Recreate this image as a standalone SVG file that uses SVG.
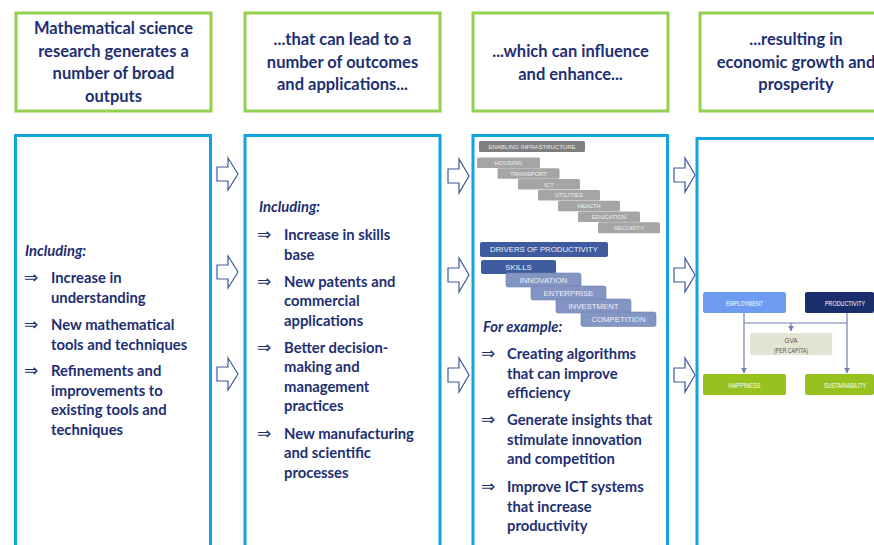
<svg xmlns="http://www.w3.org/2000/svg" width="874" height="545" viewBox="0 0 874 545">
<defs>
<style>
.hdr{fill:#fff;stroke:#92D050;stroke-width:3}
.pan{fill:#fff;stroke:#12A4DD;stroke-width:3}
.ht{font-family:Lato,"Liberation Sans",sans-serif;font-weight:bold;font-size:16.5px;fill:#1D2F72;text-anchor:middle}
.bt{font-family:Lato,"Liberation Sans",sans-serif;font-weight:bold;font-size:14.8px;fill:#1D2F72}
.it{font-family:Lato,"Liberation Sans",sans-serif;font-weight:bold;font-style:italic;font-size:14.8px;fill:#1D2F72}
.ar{font-family:"DejaVu Sans",sans-serif;font-size:17px;fill:#1D2F72}
.harr{fill:#fff;stroke:#3D5A9A;stroke-width:1.2;stroke-linejoin:miter}
.gb{fill:#A5A5A5}
.gt{font-family:"Liberation Sans",Arial,sans-serif;font-size:6px;fill:#EEEEEE;text-anchor:middle}
.bb{fill:#8395C3;stroke:#6F82B4;stroke-width:0.6}
.bbt{font-family:"Liberation Sans",Arial,sans-serif;font-size:7.8px;fill:#EEF1F8;text-anchor:middle}
.rt{font-family:"Liberation Sans",Arial,sans-serif;font-size:7.5px;fill:#fff;text-anchor:middle}
.ln{fill:none;stroke:#6E80B2;stroke-width:1.2}
</style>
<marker id="ah" viewBox="0 0 10 10" refX="9" refY="5" markerWidth="6" markerHeight="6" orient="auto" markerUnits="userSpaceOnUse">
<path d="M0,0 L10,5 L0,10 z" fill="#6E80B2"/>
</marker>
</defs>
<rect width="874" height="545" fill="#fff"/>

<g id="header1">
<rect class="hdr" x="16" y="13" width="195" height="98"/>
<text class="ht" x="113.5" y="34">Mathematical science</text>
<text class="ht" x="113.5" y="56.5">research generates a</text>
<text class="ht" x="113.5" y="79">number of broad</text>
<text class="ht" x="113.5" y="101.5">outputs</text>
</g>
<g id="header2">
<rect class="hdr" x="245" y="13" width="195" height="98"/>
<text class="ht" x="342.5" y="45">...that can lead to a</text>
<text class="ht" x="342.5" y="67.5">number of outcomes</text>
<text class="ht" x="342.5" y="90">and applications...</text>
</g>
<g id="header3">
<rect class="hdr" x="473" y="13" width="195" height="98"/>
<text class="ht" x="570.5" y="57">...which can influence</text>
<text class="ht" x="570.5" y="79.5">and enhance...</text>
</g>
<g id="header4">
<rect class="hdr" x="700" y="13" width="195" height="98"/>
<text class="ht" x="796" y="45">...resulting in</text>
<text class="ht" x="796" y="67.5">economic growth and</text>
<text class="ht" x="796" y="90">prosperity</text>
</g>

<g id="panel1">
<rect class="pan" x="15.5" y="135.5" width="195" height="430"/>
<text class="it" x="25" y="256">Including:</text>
<text class="ar" x="24" y="283">⇒</text>
<text class="bt" x="51" y="283">Increase in</text>
<text class="bt" x="51" y="302.5">understanding</text>
<text class="ar" x="24" y="330">⇒</text>
<text class="bt" x="51" y="330">New mathematical</text>
<text class="bt" x="51" y="349.5">tools and techniques</text>
<text class="ar" x="24" y="376">⇒</text>
<text class="bt" x="51" y="376">Refinements and</text>
<text class="bt" x="51" y="395.5">improvements to</text>
<text class="bt" x="51" y="415">existing tools and</text>
<text class="bt" x="51" y="434.5">techniques</text>
</g>

<g id="panel2">
<rect class="pan" x="245" y="135.5" width="195" height="430"/>
<text class="it" x="259" y="212">Including:</text>
<text class="ar" x="257" y="240">⇒</text>
<text class="bt" x="284" y="240">Increase in skills</text>
<text class="bt" x="284" y="259.5">base</text>
<text class="ar" x="257" y="286.5">⇒</text>
<text class="bt" x="284" y="286.5">New patents and</text>
<text class="bt" x="284" y="306">commercial</text>
<text class="bt" x="284" y="325.5">applications</text>
<text class="ar" x="257" y="352.5">⇒</text>
<text class="bt" x="284" y="352.5">Better decision-</text>
<text class="bt" x="284" y="372">making and</text>
<text class="bt" x="284" y="391.5">management</text>
<text class="bt" x="284" y="411">practices</text>
<text class="ar" x="257" y="438.5">⇒</text>
<text class="bt" x="284" y="438.5">New manufacturing</text>
<text class="bt" x="284" y="458">and scientific</text>
<text class="bt" x="284" y="477.5">processes</text>
</g>

<g id="panel3">
<rect class="pan" x="473" y="135.5" width="194.5" height="430"/>
<rect x="479" y="141" width="106" height="11" rx="1.5" fill="#7F7F7F"/>
<text class="gt" x="532" y="148.7">ENABLING INFRASTRUCTURE</text>
<rect class="gb" x="477" y="157.5" width="63" height="10.5" rx="1.5"/>
<text class="gt" x="508.5" y="165">HOUSING</text>
<rect class="gb" x="497.5" y="168.3" width="62" height="10.5" rx="1.5"/>
<text class="gt" x="528.5" y="175.8">TRANSPORT</text>
<rect class="gb" x="518" y="179.1" width="62" height="10.5" rx="1.5"/>
<text class="gt" x="549" y="186.6">ICT</text>
<rect class="gb" x="538" y="189.9" width="62" height="10.5" rx="1.5"/>
<text class="gt" x="569" y="197.4">UTILITIES</text>
<rect class="gb" x="558" y="200.7" width="62" height="10.5" rx="1.5"/>
<text class="gt" x="589" y="208.2">HEALTH</text>
<rect class="gb" x="578" y="211.5" width="62" height="10.5" rx="1.5"/>
<text class="gt" x="609" y="219">EDUCATION</text>
<rect class="gb" x="598" y="222.3" width="62" height="11" rx="1.5"/>
<text class="gt" x="629" y="230">SECURITY</text>

<rect x="480" y="242" width="128" height="15" rx="2" fill="#3D5B9E"/>
<text class="bbt" x="544" y="252.3">DRIVERS OF PRODUCTIVITY</text>
<rect x="481" y="260" width="75" height="14" rx="2" fill="#3F5C9F"/>
<text class="bbt" x="518.5" y="269.8">SKILLS</text>
<rect class="bb" x="506" y="273" width="75" height="14" rx="2"/>
<text class="bbt" x="543.5" y="282.8">INNOVATION</text>
<rect class="bb" x="531" y="286" width="75" height="14" rx="2"/>
<text class="bbt" x="568.5" y="295.8">ENTERPRISE</text>
<rect class="bb" x="556" y="299" width="75" height="14" rx="2"/>
<text class="bbt" x="593.5" y="308.8">INVESTMENT</text>
<rect class="bb" x="581" y="312" width="75" height="14.5" rx="2"/>
<text class="bbt" x="618.5" y="322">COMPETITION</text>

<text class="it" x="483" y="332">For example:</text>
<text class="ar" x="481" y="359">⇒</text>
<text class="bt" x="507" y="359">Creating algorithms</text>
<text class="bt" x="507" y="378.5">that can improve</text>
<text class="bt" x="507" y="398">efficiency</text>
<text class="ar" x="481" y="425">⇒</text>
<text class="bt" x="507" y="425">Generate insights that</text>
<text class="bt" x="507" y="444.5">stimulate innovation</text>
<text class="bt" x="507" y="464">and competition</text>
<text class="ar" x="481" y="492">⇒</text>
<text class="bt" x="507" y="492">Improve ICT systems</text>
<text class="bt" x="507" y="511.5">that increase</text>
<text class="bt" x="507" y="531">productivity</text>
</g>

<g id="panel4">
<rect class="pan" x="697" y="138.5" width="200" height="430"/>
<rect x="703" y="292" width="83" height="21" rx="2" fill="#6E9CF2"/>
<text class="rt" x="744.5" y="305.5" textLength="37" lengthAdjust="spacingAndGlyphs">EMPLOYMENT</text>
<rect x="805" y="292" width="69" height="21" rx="2" fill="#1A2E6E"/>
<text class="rt" x="845" y="305.5" textLength="40" lengthAdjust="spacingAndGlyphs">PRODUCTIVITY</text>
<rect x="750" y="333" width="82" height="22" rx="2" fill="#E4E4D3"/>
<text class="rt" x="791" y="342.5" style="fill:#555" textLength="13" lengthAdjust="spacingAndGlyphs">GVA</text>
<text class="rt" x="791" y="353" style="fill:#555" textLength="34" lengthAdjust="spacingAndGlyphs">(PER CAPITA)</text>
<rect x="703" y="374" width="83" height="21" rx="2" fill="#96C11F"/>
<text class="rt" x="744.5" y="387.5" textLength="32" lengthAdjust="spacingAndGlyphs">HAPPINESS</text>
<rect x="805" y="374" width="69" height="21" rx="2" fill="#96C11F"/>
<text class="rt" x="845" y="387.5" textLength="42" lengthAdjust="spacingAndGlyphs">SUSTAINABILITY</text>
</g>

<g id="connectors">
<path class="ln" d="M744,313 V373" marker-end="url(#ah)"/>
<path class="ln" d="M847,313 V373" marker-end="url(#ah)"/>
<path class="ln" d="M744,323 H847"/>
<path class="ln" d="M791,323 V331" marker-end="url(#ah)"/>
<polygon class="harr" points="217,167 228,167 228,158 238,174 228,190 228,181 217,181"/>
<polygon class="harr" points="217,265 228,265 228,256 238,272 228,288 228,279 217,279"/>
<polygon class="harr" points="217,367 228,367 228,358 238,374 228,390 228,381 217,381"/>
<polygon class="harr" points="448,169 459,169 459,159 469,176 459,193 459,183 448,183"/>
<polygon class="harr" points="448,268 459,268 459,258 469,275 459,292 459,282 448,282"/>
<polygon class="harr" points="448,368 459,368 459,358 469,375 459,392 459,382 448,382"/>
<polygon class="harr" points="674,168 685,168 685,158 695,175 685,192 685,182 674,182"/>
<polygon class="harr" points="674,268 685,268 685,258 695,275 685,292 685,282 674,282"/>
<polygon class="harr" points="674,368 685,368 685,358 695,375 685,392 685,382 674,382"/>
</g>
</svg>
